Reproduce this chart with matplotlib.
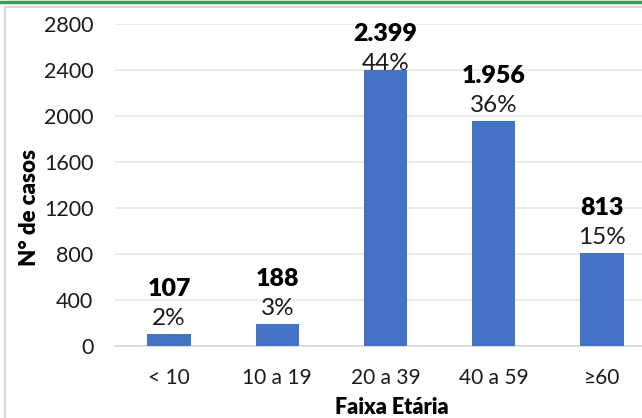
import matplotlib
matplotlib.use("Agg")
import matplotlib.pyplot as plt
from matplotlib.lines import Line2D

categories = ["< 10", "10 a 19", "20 a 39", "40 a 59", "≥60"]
values = [107, 188, 2399, 1956, 813]
percents = ["2%", "3%", "44%", "36%", "15%"]
yticks = [0, 400, 800, 1200, 1600, 2000, 2400, 2800]

plt.rcParams['font.family'] = ['Lato', 'DejaVu Sans']

W, H = 642, 418
fig = plt.figure(figsize=(W / 100, H / 100), dpi=100)
fig.patch.set_facecolor("white")

# frame and green top line
fig.add_artist(Line2D([0, 1], [1 - 1.5 / H, 1 - 1.5 / H], transform=fig.transFigure,
                      color="#3d9b52", lw=2.5))
fig.add_artist(Line2D([5.5 / W, 5.5 / W, 1.01], [-0.01, 1 - 7 / H, 1 - 7 / H],
                      transform=fig.transFigure, color="#d9d9d9", lw=1.5))

left, right = 115, 656
bottom, top = 346, 24
ax = fig.add_axes([left / W, (H - bottom) / H, (right - left) / W, (bottom - top) / H])

x = list(range(len(categories)))
ax.bar(x, values, width=0.4, color="#4472C4", zorder=3)
ax.set_xlim(-0.5, len(categories) - 0.5)
ax.set_ylim(0, 2800)
ax.set_yticks(yticks)
ax.set_yticklabels([str(t) for t in yticks], fontsize=15.5, color="#1a1a1a")
ax.set_xticks(x)
ax.set_xticklabels(categories, fontsize=15, color="#1a1a1a")
ax.tick_params(axis="y", length=0, pad=15.5)
ax.tick_params(axis="x", length=0, pad=16)
ax.grid(axis="y", color="#e8e8e8", lw=1.2, zorder=0)
for s in ["top", "right", "left"]:
    ax.spines[s].set_visible(False)
ax.spines["bottom"].set_color("#d9d9d9")
ax.spines["bottom"].set_linewidth(1.2)

# label offsets (points): keep labels inside the plot area like the original
px_per_data = (bottom - top) / 2800.0
for xi, v, p in zip(x, values, percents):
    bar_top_px = bottom - v * px_per_data
    label_top_px = bar_top_px - 38 - 17
    shift_px = max(0.0, top - label_top_px)
    pct_off = (9 - shift_px) * 0.72
    num_off = (38 - shift_px) * 0.72
    ax.annotate(p, (xi, v), xytext=(0, pct_off), textcoords="offset points",
                ha="center", va="baseline", fontsize=17.5, color="#1a1a1a")
    ax.annotate(f"{v:,}".replace(",", "."), (xi, v), xytext=(0, num_off), textcoords="offset points",
                ha="center", va="baseline", fontsize=18, fontweight="heavy", color="black")

fig.text(392 / W, 1 - 407 / H, "Faixa Etária", ha="center", va="center",
         fontsize=15.5, fontweight="heavy")
fig.text(30 / W, 1 - 208 / H, "N° de casos", ha="center", va="center",
         rotation=90, fontsize=16, fontweight="heavy")

fig.savefig("out.png", dpi=100)
